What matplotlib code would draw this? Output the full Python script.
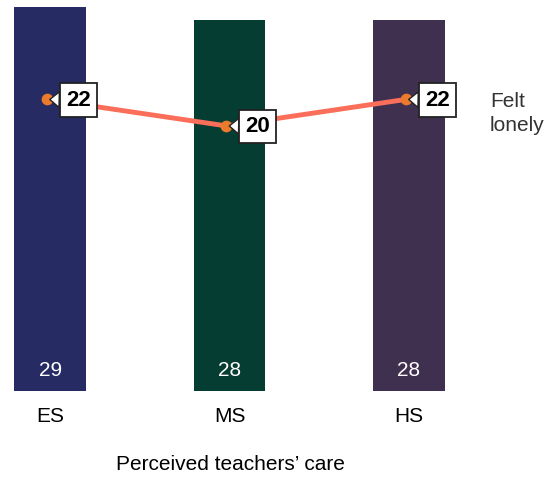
import matplotlib.pyplot as plt

plt.rcParams['font.family'] = ['Liberation Sans', 'DejaVu Sans']

levels = ["ES", "MS", "HS"]
teacher_care = [29, 28, 28]
felt_lonely = [22, 20, 22]
bar_colors = ["#262b63", "#063d33", "#3f3050"]


def main():
    fig = plt.figure(figsize=(5.54, 4.78), dpi=100)
    ax = fig.add_axes([0, 87 / 478, 1, 391 / 478])
    xs = list(range(len(levels)))

    ax.bar(xs, teacher_care, width=0.4, color=bar_colors, zorder=1)
    for x, v in zip(xs, teacher_care):
        ax.text(x, 1.55, str(v), ha="center", va="center", color="white", fontsize=15)

    # line points sit a touch left of the bar centres
    px = [x - 0.017 for x in xs]
    ax.plot(px, felt_lonely, color="#fa6e5a", lw=3.5, zorder=2)
    ax.scatter(px, felt_lonely, s=55, color="#ea7a2c", zorder=3)
    for x, v in zip(px, felt_lonely):
        ax.annotate(str(v), xy=(x, v), xytext=(x + 0.175, v - 0.05),
                    ha="center", va="center", fontsize=16, fontweight="bold",
                    bbox=dict(boxstyle="square,pad=0.28", fc="white", ec="#222222", lw=1.3),
                    arrowprops=dict(arrowstyle="wedge,tail_width=0.7,shrink_factor=0.5",
                                    fc="white", ec="#222222", lw=1.0,
                                    shrinkA=0, shrinkB=2),
                    zorder=4)

    ax.text(2.45, 20.95, "Felt\nlonely", ha="left", va="center", fontsize=15,
            color="#333333", linespacing=1.35)

    ax.set_xlim(-0.279, 2.808)
    ax.set_ylim(0, 29.5)
    ax.axis("off")

    for x, name in zip(xs, levels):
        fig.text((50 + 179.5 * x) / 554, 1 - 416 / 478, name, ha="center",
                 va="center", fontsize=15)
    fig.text(230 / 554, 1 - 465 / 478, "Perceived teachers\u2019 care", ha="center",
             va="center", fontsize=15)

    fig.savefig("out.png", dpi=100)
    plt.close(fig)


if __name__ == "__main__":
    main()
